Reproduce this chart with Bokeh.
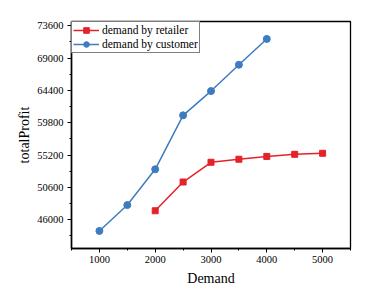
from bokeh.plotting import figure
from bokeh.models import FixedTicker, Range1d, Legend, LegendItem
from bokeh.embed import file_html
from bokeh.resources import INLINE

demand_retailer = [2000, 2500, 3000, 3500, 4000, 4500, 5000]
profit_retailer = [47270, 51360, 54170, 54600, 55000, 55300, 55450]
demand_customer = [1000, 1500, 2000, 2500, 3000, 3500, 4000]
profit_customer = [44400, 48080, 53170, 60850, 64300, 68050, 71720]
x_ticks = [1000, 2000, 3000, 4000, 5000]
x_minor = [500, 1500, 2500, 3500, 4500, 5500]
y_ticks = [46000, 50600, 55200, 59800, 64400, 69000, 73600]
y_minor = [43700, 48300, 52900, 57500, 62100, 66700, 71300]

RED = "#E5222A"
BLUE = "#3D7DBF"
FONT = "Liberation Serif"

p = figure(frame_width=279, frame_height=227, output_backend="svg", toolbar_location=None,
           x_range=Range1d(500, 5500), y_range=Range1d(41900, 74200),
           min_border_left=71, min_border_right=23, min_border_top=21, min_border_bottom=42)
p.background_fill_color = "white"
p.border_fill_color = "white"
p.outline_line_color = "black"
p.outline_line_width = 1.3
p.grid.visible = False

p.xaxis.ticker = FixedTicker(ticks=x_ticks, minor_ticks=x_minor)
p.yaxis.ticker = FixedTicker(ticks=y_ticks, minor_ticks=y_minor)
for ax in (p.xaxis[0], p.yaxis[0]):
    ax.axis_line_color = "black"
    ax.axis_line_width = 1.5
    ax.major_tick_line_color = "black"
    ax.minor_tick_line_color = "black"
    ax.major_tick_in = 0
    ax.major_tick_out = 4
    ax.minor_tick_in = 0
    ax.minor_tick_out = 2
    ax.major_label_text_font = FONT
    ax.major_label_text_font_size = "10.5px"
    ax.major_label_text_color = "black"
    ax.axis_label_text_font = FONT
    ax.axis_label_text_font_size = "14px"
    ax.axis_label_text_font_style = "normal"
    ax.axis_label_text_color = "black"
p.xaxis.axis_label = "Demand"
p.yaxis.axis_label = "totalProfit"
p.xaxis.major_label_standoff = 3
p.xaxis.axis_label_standoff = 5
p.yaxis.major_label_standoff = 4
p.yaxis.axis_label_standoff = 2

l1 = p.line(demand_retailer, profit_retailer, line_color=RED, line_width=1.5)
s1 = p.scatter(demand_retailer, profit_retailer, marker="square", size=6, fill_color=RED, line_color=RED)
l2 = p.line(demand_customer, profit_customer, line_color=BLUE, line_width=1.5)
s2 = p.scatter(demand_customer, profit_customer, marker="circle", size=7, fill_color=BLUE, line_color=BLUE)

legend = Legend(items=[LegendItem(label="demand by retailer", renderers=[l1, s1]),
                       LegendItem(label="demand by customer", renderers=[l2, s2])],
                location="top_left")
legend.margin = 0
legend.padding = 1
legend.spacing = 0
legend.glyph_width = 26
legend.glyph_height = 14
legend.label_height = 14
legend.label_standoff = 3
legend.label_text_font = FONT
legend.label_text_font_size = "11.5px"
legend.label_text_color = "black"
legend.border_line_color = "black"
legend.border_line_width = 1.2
legend.background_fill_alpha = 1
p.add_layout(legend)

open("out.html", "w").write(file_html(p, INLINE))
